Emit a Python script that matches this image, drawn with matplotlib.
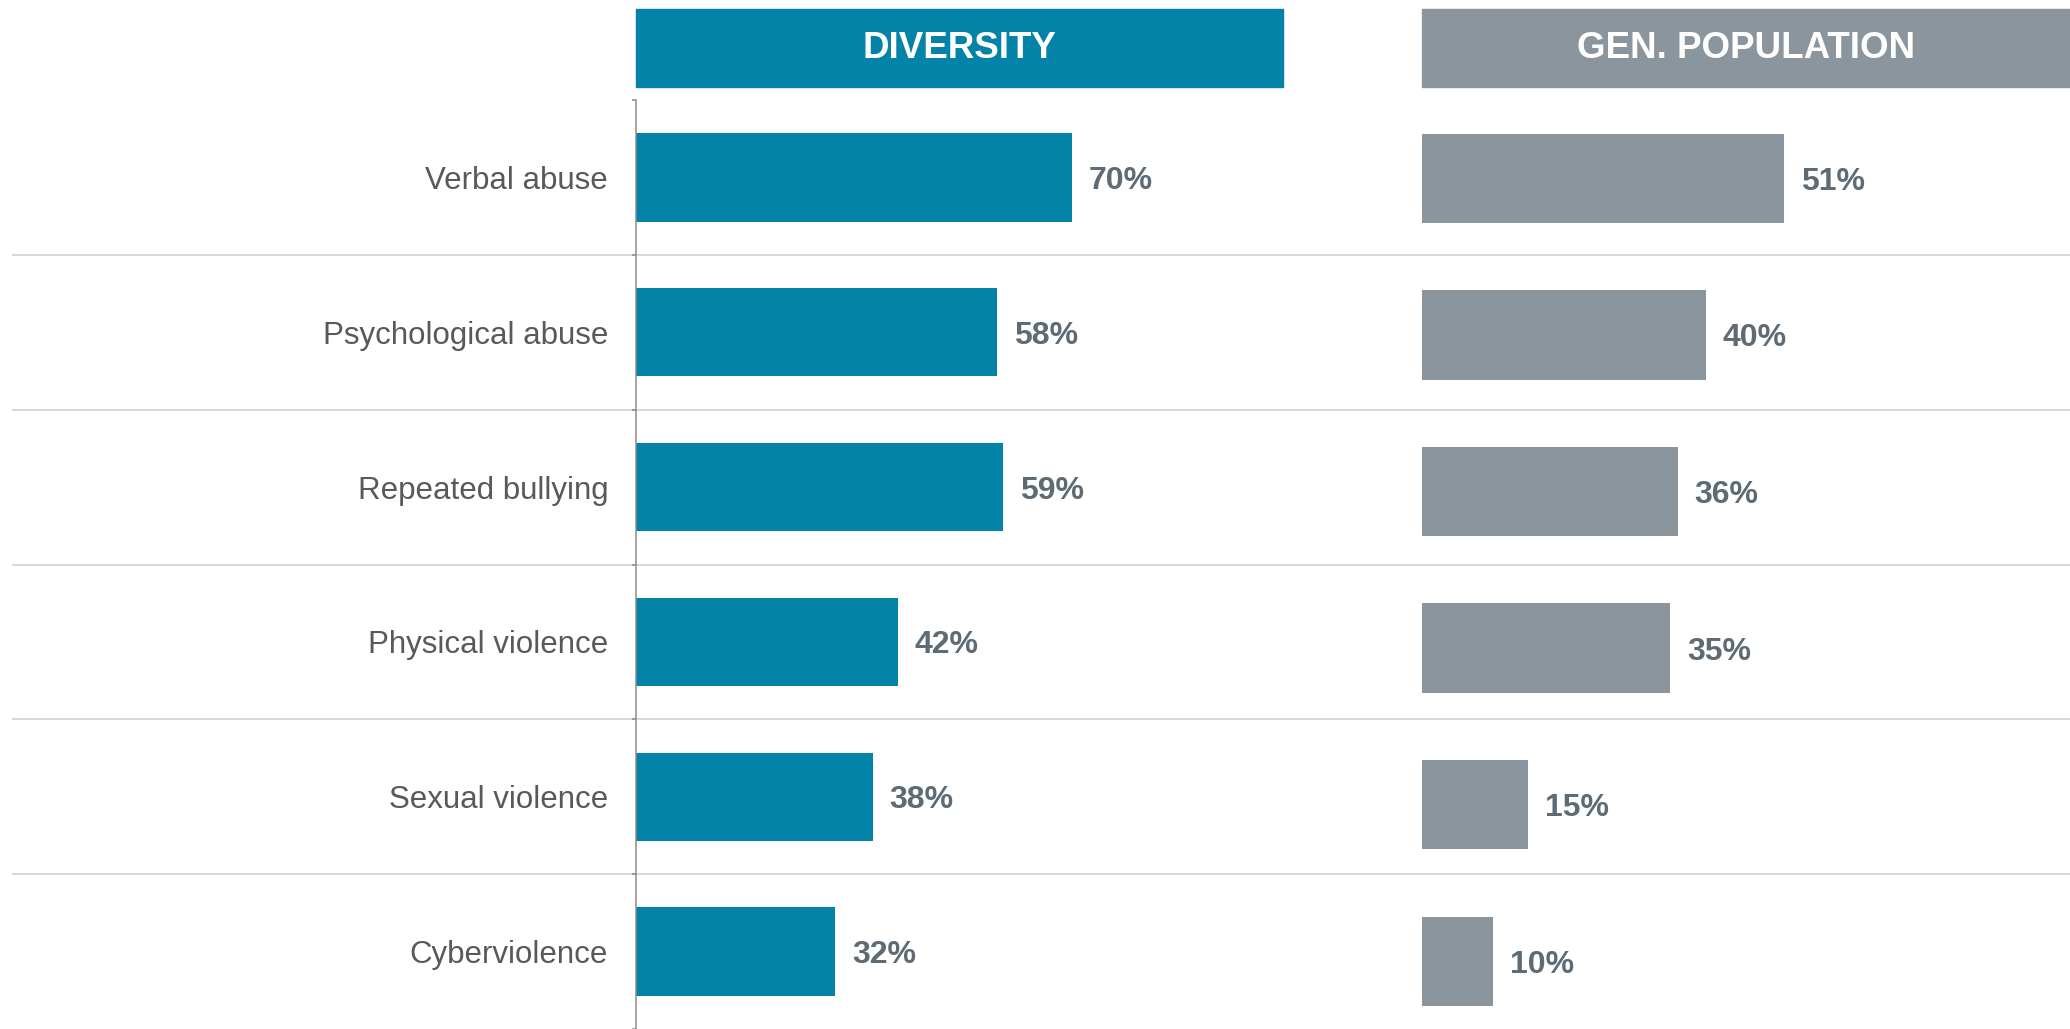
import numpy as np
import matplotlib.pyplot as plt
from matplotlib.patches import Rectangle

plt.rcParams['font.family'] = ['Liberation Sans', 'DejaVu Sans']

# === Dati ===
categorie = ['Verbal abuse', 'Psychological abuse', 'Repeated bullying',
             'Physical violence', 'Sexual violence', 'Cyberviolence']
diversity = [70, 58, 59, 42, 38, 32]
gen_population = [51, 40, 36, 35, 15, 10]
titoli = ['DIVERSITY', 'GEN. POPULATION']

# === Stile ===
c_div = '#0383a7'
c_gen = '#8a959e'
c_val = '#5e6a74'
c_cat = '#595959'
c_sep = '#d9d9d9'

W, H = 2070, 1029
fig = plt.figure(figsize=(W / 100, H / 100), dpi=100)

y = np.arange(len(categorie))

# assi in pixel -> frazioni della figura
ax1 = fig.add_axes([636 / W, 0, 647 / W, (H - 100) / H])
ax2 = fig.add_axes([1422 / W, 0, 648 / W, (H - 100) / H])
for ax in (ax1, ax2):
    ax.patch.set_alpha(0)

ax1.barh(y, diversity, height=0.57, color=c_div)
ax2.barh(y, gen_population, height=0.57, color=c_gen)

ax1.set_xlim(0, 103.9)
ax1.set_ylim(5.486, -0.5)
ax2.set_xlim(0, 91.3)
ax2.set_ylim(5.432, -0.5)

for ax, valori in [(ax1, diversity), (ax2, gen_population)]:
    for yi, v in zip(y, valori):
        ax.annotate(f'{v}%', (v, yi), xytext=(12, 0), textcoords='offset points',
                    va='center_baseline', ha='left', fontsize=23, fontweight='bold',
                    color=c_val)
    for s in ['top', 'right', 'bottom']:
        ax.spines[s].set_visible(False)
    ax.set_xticks([])

# asse sinistro con etichette
ax1.spines['left'].set_color('#8c8c8c')
ax1.spines['left'].set_linewidth(1.1)
ax1.set_yticks(y)
ax1.set_yticklabels(categorie, fontsize=22.5, color=c_cat, va='center_baseline')
ax1.tick_params(axis='y', which='major', length=0, pad=20)
ax1.set_yticks(np.arange(-0.5, len(categorie), 1), minor=True)
ax1.tick_params(axis='y', which='minor', length=3, width=1.1, color='#8c8c8c')

ax2.spines['left'].set_visible(False)
ax2.set_yticks([])

# linee separatrici
for b in np.arange(0.5, len(categorie) - 1, 1):
    ax1.axhline(b, xmin=(13 - 636) / 647, xmax=(W - 636) / 647,
                color=c_sep, lw=1.5, clip_on=False, zorder=0)

# intestazioni
for ax, titolo, col in [(ax1, titoli[0], c_div), (ax2, titoli[1], c_gen)]:
    pos = ax.get_position()
    y0 = 1 - 87 / H
    h = 78 / H
    fig.patches.append(Rectangle((pos.x0, y0), pos.width, h, transform=fig.transFigure,
                                 color=col, zorder=0))
    fig.text(pos.x0 + pos.width / 2, y0 + h / 2, titolo, ha='center', va='center',
             fontsize=26.5, fontweight='bold', color='white')

plt.savefig('out.png', dpi=100)
